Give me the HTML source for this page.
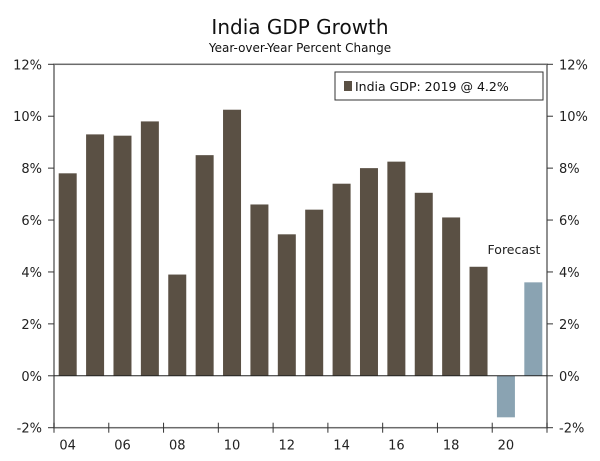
<!DOCTYPE html>
<html><head><meta charset="utf-8"><style>
body{margin:0;background:#fff;font-family:"DejaVu Sans","Liberation Sans",sans-serif}
</style></head><body>
<svg id="c" width="600" height="457" xmlns="http://www.w3.org/2000/svg" font-family="DejaVu Sans, Liberation Sans, sans-serif"></svg>
<script>
const years=["04","05","06","07","08","09","10","11","12","13","14","15","16","17","18","19","20","21"];
const values=[7.8,9.3,9.25,9.8,3.9,8.5,10.25,6.6,5.45,6.4,7.4,8.0,8.25,7.05,6.1,4.2,-1.6,3.6];
const forecast=[0,0,0,0,0,0,0,0,0,0,0,0,0,0,0,0,1,1];
const yTicks=[12,10,8,6,4,2,0,-2];
const NS="http://www.w3.org/2000/svg";
const svg=document.getElementById('c');
const L=54,R=547,T=64.3,B=427.7,ymin=-2,ymax=12;
const pitch=(R-L)/years.length;
const y=v=>B-(v-ymin)/(ymax-ymin)*(B-T);
const x=i=>L+pitch*i;
function el(t,a,txt){const e=document.createElementNS(NS,t);for(const k in a)e.setAttribute(k,a[k]);if(txt!==undefined)e.textContent=txt;svg.appendChild(e);return e;}
let e;
e=el('text',{x:300,y:34,'text-anchor':'middle','font-size':20,fill:'#111'},'India GDP Growth');


e=el('text',{x:300,y:52,'text-anchor':'middle','font-size':12,fill:'#111'},'Year-over-Year Percent Change');


e=el('rect',{x:L,y:T,width:R-L,height:B-T,fill:'none',stroke:'#6b6b6b','stroke-width':1.5});


yTicks.forEach(v=>{
  const yy=y(v);
  e=el('line',{x1:L-6,x2:L,y1:yy,y2:yy,stroke:'#333'});
  
  
  e=el('line',{x1:R,x2:R+6,y1:yy,y2:yy,stroke:'#333'});
  
  
  e=el('text',{x:L-12,y:yy+5,'text-anchor':'end','font-size':13,fill:'#222'},v+'%');
  
  
  e=el('text',{x:R+12,y:yy+5,'text-anchor':'start','font-size':13,fill:'#222'},v+'%');
  
  
});
values.forEach((v,i)=>{
  const y0=y(0),y1=y(v);
  e=el('rect',{x:x(i)+4.7,y:Math.min(y0,y1),width:18,height:Math.abs(y1-y0),fill:forecast[i]?'#8aa3b2':'#5a5044'});
  
  
});
e=el('line',{x1:L,x2:R,y1:y(0),y2:y(0),stroke:'#222','stroke-width':1});


for(let i=0;i<=years.length;i+=2){
  e=el('line',{x1:x(i),x2:x(i),y1:B-5,y2:B+5,stroke:'#333'});
  
  
}
years.forEach((yr,i)=>{ if(i%2==0){
  e=el('text',{x:x(i)+pitch/2,y:B+22,'text-anchor':'middle','font-size':13,fill:'#222'},yr);
  
  
}});
e=el('text',{x:514,y:y(4.7),'text-anchor':'middle','font-size':12.5,fill:'#222'},'Forecast');


e=el('rect',{x:335,y:72,width:208,height:28,fill:'#fff',stroke:'#333'});


e=el('rect',{x:344,y:81,width:8,height:10,fill:'#5a5044'});


e=el('text',{x:355,y:91,'font-size':12.5,fill:'#111'},'India GDP: 2019 @ 4.2%');


</script>
</body></html>
